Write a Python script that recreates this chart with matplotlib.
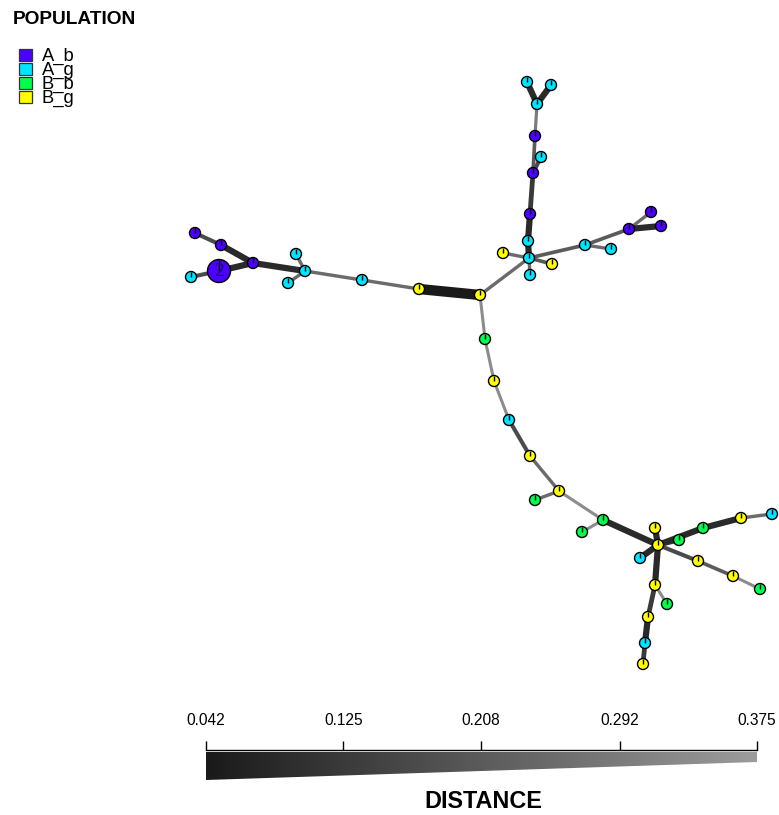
import numpy as np
import matplotlib
matplotlib.use('Agg')
import matplotlib.pyplot as plt
from matplotlib.collections import LineCollection
from matplotlib.patches import Circle, Rectangle, Polygon
from matplotlib.colors import LinearSegmentedColormap, Normalize

W, H, DPI = 779, 815, 100
PT = 72.0 / DPI  # points per pixel
plt.rcParams['font.family'] = ['Liberation Sans', 'DejaVu Sans']

# ---------------- data ----------------
populations = ['A_b', 'A_g', 'B_b', 'B_g']
pop_colors = ['#4C00FF', '#00E5FF', '#00FF4D', '#FFFF00']

# network layout coordinates (layout units, y grows downward)
layout_x = [195, 221, 253, 219, 191, 296, 305, 288, 362, 419, 480,
            527, 551, 537, 535, 541, 533, 530, 528, 529, 503, 552, 530,
            585, 611, 629, 651, 661,
            485, 494, 509, 530, 559, 535, 603, 582,
            655, 658, 640, 679, 703, 741, 772, 698, 733, 760, 655, 667,
            648, 645, 643]
layout_y = [233, 245, 263, 271, 277, 254, 271, 283, 280, 289, 295,
            82, 85, 104, 136, 157, 173, 214, 241, 258, 253, 264, 275,
            245, 249, 229, 212, 226,
            339, 381, 420, 456, 491, 500, 520, 532,
            528, 545, 558, 540, 528, 518, 514, 561, 576, 589, 585, 604,
            617, 643, 664]
node_pop = ['A_b', 'A_b', 'A_b', 'A_b', 'A_g', 'A_g', 'A_g', 'A_g', 'A_g', 'B_g', 'B_g',
            'A_g', 'A_g', 'A_g', 'A_b', 'A_g', 'A_b', 'A_b', 'A_g', 'A_g', 'B_g', 'B_g', 'A_g',
            'A_g', 'A_g', 'A_b', 'A_b', 'A_b',
            'B_b', 'B_g', 'A_g', 'B_g', 'B_g', 'B_b', 'B_b', 'B_b',
            'B_g', 'B_g', 'A_g', 'B_b', 'B_b', 'B_g', 'A_g', 'B_g', 'B_g', 'B_b', 'B_g', 'B_b',
            'B_g', 'A_g', 'B_g']
node_count = [1] * 51
node_count[3] = 2

edge_from = [10, 9, 8, 6, 6, 6, 2, 1, 2, 3,
             19, 18, 17, 16, 16, 14, 13, 13, 19, 19, 19, 19, 23, 23, 25, 25, 19,
             10, 28, 29, 30, 31, 32, 32, 34, 34,
             37, 37, 37, 37, 40, 41, 37, 43, 44, 37, 46, 46, 48, 49]
edge_to = [9, 8, 6, 5, 7, 2, 1, 0, 3, 4,
           18, 17, 16, 15, 14, 13, 11, 12, 20, 21, 22, 23, 24, 25, 26, 27, 10,
           28, 29, 30, 31, 32, 33, 34, 35, 37,
           36, 38, 39, 40, 41, 42, 43, 44, 45, 46, 47, 48, 49, 50]
edge_dist = [0.042, 0.25, 0.25, 0.25, 0.25, 0.083, 0.083, 0.167, 0.083, 0.167,
             0.083, 0.083, 0.125, 0.167, 0.208, 0.292, 0.083, 0.083, 0.25, 0.208, 0.25, 0.208,
             0.25, 0.208, 0.25, 0.083, 0.25,
             0.333, 0.333, 0.333, 0.167, 0.25, 0.25, 0.333, 0.333, 0.083,
             0.083, 0.083, 0.125, 0.083, 0.083, 0.25, 0.167, 0.208, 0.333, 0.083, 0.333,
             0.125, 0.083, 0.125]

dist_ticks = [0.042, 0.125, 0.208, 0.292, 0.375]
dist_labels = ['0.042', '0.125', '0.208', '0.292', '0.375']

# ---------------- figure ----------------
fig = plt.figure(figsize=(W / DPI, H / DPI), dpi=DPI)
ax = fig.add_axes([0, 0, 1, 1])
ax.set_xlim(0, W)
ax.set_ylim(H, 0)
ax.axis('off')

cmap = LinearSegmentedColormap.from_list('dist', ['#1a1a1a', '#9c9c9c'])
norm = Normalize(vmin=dist_ticks[0], vmax=dist_ticks[-1])

def width_px(d):
    return 2.0 + 0.35 / d

segs = [[(layout_x[a], layout_y[a]), (layout_x[b], layout_y[b])]
        for a, b in zip(edge_from, edge_to)]
lc = LineCollection(segs, colors=[cmap(norm(d)) for d in edge_dist],
                    linewidths=[width_px(d) * PT for d in edge_dist],
                    capstyle='butt', zorder=1)
ax.add_collection(lc)

for x, y, p, c in zip(layout_x, layout_y, node_pop, node_count):
    r = 5.5 + 6.0 * (c - 1)
    ax.add_patch(Circle((x, y), r, facecolor=pop_colors[populations.index(p)],
                        edgecolor='black', lw=1.0, zorder=2))
    ax.plot([x, x], [y, y - r], color='black', lw=1.4 * PT, zorder=3,
            solid_capstyle='butt')
    if c > 1:
        ax.text(x, y + 1, str(c), ha='center', va='center', fontsize=14,
                family=['Liberation Serif', 'DejaVu Serif'], color='#1a0a5c', zorder=4)

# ---------------- legend ----------------
ax.text(13, 19, 'POPULATION', fontsize=13.8, fontweight='bold', ha='left', va='center')
for i, (p, col) in enumerate(zip(populations, pop_colors)):
    cy = 54.5 + i * 14.1
    ax.add_patch(Rectangle((19, cy - 6), 13, 12, facecolor=col, edgecolor='#333333', lw=0.9))
    ax.text(42, cy + 6.5, p, fontsize=13.2, ha='left', va='baseline')

# ---------------- distance bar ----------------
x0, x1 = 206, 757
ax_cb = fig.add_axes([x0 / W, (H - 780) / H, (x1 - x0) / W, 30 / H])
ax_cb.set_xlim(dist_ticks[0], dist_ticks[-1])
ax_cb.set_ylim(30, 0)
grad = np.linspace(dist_ticks[0], dist_ticks[-1], 512)[None, :]
im = ax_cb.imshow(grad, cmap=cmap, norm=norm, aspect='auto',
                  extent=(dist_ticks[0], dist_ticks[-1], 30, 2), interpolation='bilinear')
poly = Polygon([(dist_ticks[0], 2), (dist_ticks[-1], 2), (dist_ticks[-1], 12), (dist_ticks[0], 30)],
               closed=True, transform=ax_cb.transData, facecolor='none', edgecolor='none')
ax_cb.add_patch(poly)
im.set_clip_path(poly)
ax_cb.set_ylim(30, 0)
for s in ['left', 'right', 'bottom']:
    ax_cb.spines[s].set_visible(False)
ax_cb.spines['top'].set_linewidth(1.0)
ax_cb.set_yticks([])
ax_cb.xaxis.tick_top()
ax_cb.set_xticks(dist_ticks)
ax_cb.set_xticklabels(dist_labels, fontsize=11.2)
ax_cb.tick_params(axis='x', direction='out', length=9 * PT, width=1.0, pad=9.5)
ax_cb.patch.set_alpha(0)

fig.text(483 / W, 1 - 802 / H, 'DISTANCE', fontsize=16.8, fontweight='bold',
         ha='center', va='center')

fig.savefig('out.png', dpi=DPI)
